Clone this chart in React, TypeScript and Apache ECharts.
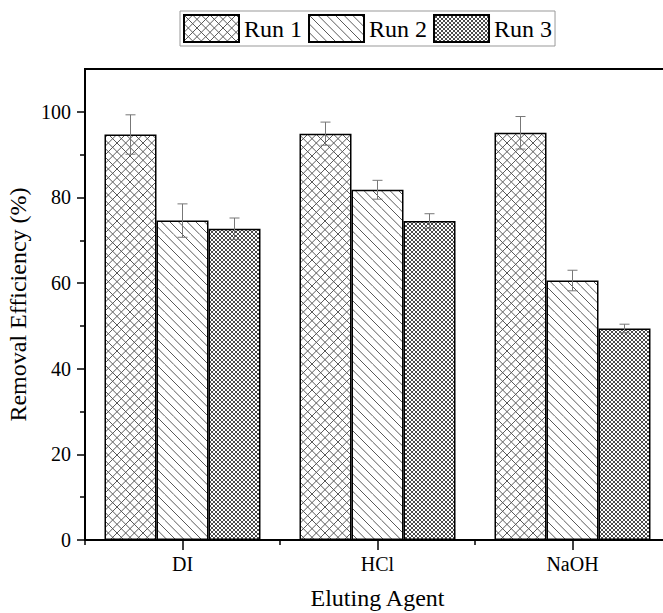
import React, { useEffect, useRef } from "react";
import * as echarts from "echarts";

const categories = ["DI", "HCl", "NaOH"];
const seriesNames = ["Run 1", "Run 2", "Run 3"];
const run1 = [94.7, 94.9, 95.1];
const run2 = [74.6, 81.8, 60.6];
const run3 = [72.7, 74.5, 49.4];
const err1 = [4.6, 2.7, 3.8];
const err2 = [3.9, 2.2, 2.4];
const err3 = [2.5, 1.7, 1.0];
const yTicks = [0, 20, 40, 60, 80, 100];
const yMinorTicks = [10, 30, 50, 70, 90];

const FONT = "Liberation Serif";

function makePattern(size: number, reps: number, diag1: boolean, diag2: boolean, color: string, lw: number) {
  const c = document.createElement("canvas");
  c.width = size;
  c.height = size;
  const ctx = c.getContext("2d")!;
  ctx.fillStyle = "#fff";
  ctx.fillRect(0, 0, size, size);
  ctx.strokeStyle = color;
  ctx.lineWidth = lw;
  ctx.beginPath();
  const p = size / reps;
  for (let j = -reps; j <= reps; j++) {
    const k = j * p;
    if (diag1) {
      ctx.moveTo(k, 0);
      ctx.lineTo(k + size, size);
    }
    if (diag2) {
      ctx.moveTo(k + size, 0);
      ctx.lineTo(k, size);
    }
  }
  ctx.stroke();
  return { image: c, repeat: "repeat", imageWidth: size, imageHeight: size } as any;
}

export default function App() {
  const ref = useRef<HTMLDivElement>(null);
  useEffect(() => {
    if (!ref.current) return;
    const chart = echarts.init(ref.current, undefined, { renderer: "svg" });
    const patterns = [
      makePattern(26, 3, true, true, "#5a5a5a", 1),
      makePattern(26, 3, true, false, "#5a5a5a", 1),
      makePattern(4, 1, true, true, "#4a4a4a", 1),
    ];
    const values = [run1, run2, run3];
    const errs = [err1, err2, err3];
    const barSeries = values.map((vals, i) => ({
      name: seriesNames[i],
      type: "bar",
      xAxisIndex: 0,
      yAxisIndex: 0,
      data: vals,
      barGap: "0%",
      barCategoryGap: "20%",
      itemStyle: { color: patterns[i], borderColor: "#000", borderWidth: 1.5 },
      z: 2,
    }));
    const errSeries = values.map((vals, i) => ({
      name: "err" + (i + 1),
      type: "custom",
      xAxisIndex: 0,
      yAxisIndex: 0,
      z: 4,
      encode: { x: 0, y: 1 },
      data: vals.map((v, ci) => [ci, v, errs[i][ci]]),
      renderItem: (params: any, api: any) => {
        const ci = api.value(0);
        const v = api.value(1);
        const e = api.value(2);
        const band = api.size([1, 0])[0];
        const off = ((i - 1) * band * 0.8) / 3;
        const top = api.coord([ci, v + e]);
        const bot = api.coord([ci, v - e]);
        const x = top[0] + off;
        const hw = 5;
        const style = { stroke: "#777", lineWidth: 1 };
        return {
          type: "group",
          children: [
            { type: "line", shape: { x1: x, y1: top[1], x2: x, y2: bot[1] }, style },
            { type: "line", shape: { x1: x - hw, y1: top[1], x2: x + hw, y2: top[1] }, style },
            { type: "line", shape: { x1: x - hw, y1: bot[1], x2: x + hw, y2: bot[1] }, style },
          ],
        };
      },
    }));
    chart.setOption({
      animation: false,
      textStyle: { fontFamily: FONT, color: "#000" },
      legend: {
        data: seriesNames,
        top: 11,
        left: 180,
        itemWidth: 55,
        itemHeight: 27,
        itemGap: 6,
        icon: "rect",
        borderColor: "#999",
        borderWidth: 1,
        padding: 3,
        textStyle: { fontSize: 24, fontFamily: FONT, color: "#000" },
      },
      grid: {
        left: 85,
        top: 69,
        width: 585,
        height: 471,
        show: true,
        borderColor: "#000",
        borderWidth: 2,
        outerBoundsMode: "none",
        containLabel: false,
      },
      xAxis: [
        {
          type: "category",
          data: categories,
          position: "bottom",
          axisLine: { show: true, lineStyle: { color: "#000", width: 2 } },
          axisTick: { show: true, alignWithLabel: true, length: 10, lineStyle: { color: "#000", width: 1.5 } },
          axisLabel: { fontSize: 20, margin: 14, color: "#000", fontFamily: FONT },
          name: "Eluting Agent",
          nameLocation: "middle",
          nameGap: 46,
          nameTextStyle: { fontSize: 24, color: "#000", fontFamily: FONT },
        },
        {
          type: "category",
          data: categories,
          position: "bottom",
          axisLine: { show: false },
          axisTick: { show: true, alignWithLabel: false, length: 5, lineStyle: { color: "#000", width: 1.5 } },
          axisLabel: { show: false },
        },
      ],
      yAxis: [
        {
          type: "value",
          min: 0,
          max: 110,
          position: "left",
          axisLine: { show: true, lineStyle: { color: "#000", width: 2 } },
          axisTick: { show: true, length: 8, customValues: yTicks, lineStyle: { color: "#000", width: 1.5 } },
          axisLabel: { customValues: yTicks, fontSize: 20, margin: 14, color: "#000", fontFamily: FONT },
          splitLine: { show: false },
          name: "Removal Efficiency (%)",
          nameLocation: "middle",
          nameGap: 50,
          nameTextStyle: { fontSize: 24, color: "#000", fontFamily: FONT },
        },
        {
          type: "value",
          min: 0,
          max: 110,
          position: "left",
          axisLine: { show: false },
          axisTick: { show: true, length: 5, customValues: yMinorTicks, lineStyle: { color: "#000", width: 1.5 } },
          axisLabel: { show: false },
          splitLine: { show: false },
        },
      ],
      series: [...barSeries, ...errSeries],
    });
    return () => chart.dispose();
  }, []);
  return (
    <div
      ref={ref}
      style={{ position: "fixed", left: 0, top: 0, width: 663, height: 613, background: "#fff" }}
    />
  );
}
